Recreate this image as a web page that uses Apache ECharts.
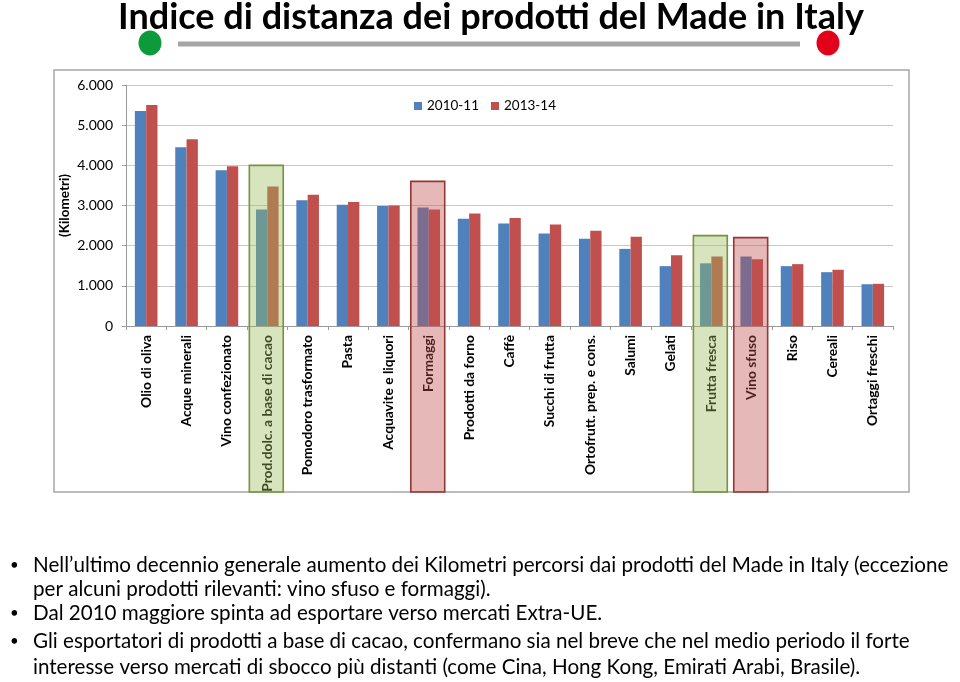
<!DOCTYPE html>
<html>
<head>
<meta charset="utf-8">
<script src="https://cdn.jsdelivr.net/npm/echarts@6/dist/echarts.min.js"></script>
<style>
html,body{margin:0;padding:0;background:#fff;}
#c{width:960px;height:682px;}
</style>
</head>
<body>
<div id="c"></div>
<script>
const titleText = 'Indice di distanza dei prodotti del Made in Italy';
const categories = ['Olio di oliva','Acque minerali','Vino confezionato','Prod.dolc. a base di cacao','Pomodoro trasformato','Pasta','Acquavite e liquori','Formaggi','Prodotti da forno','Caffè','Succhi di frutta','Ortofrutt. prep. e cons.','Salumi','Gelati','Frutta fresca','Vino sfuso','Riso','Cereali','Ortaggi freschi'];
const seriesNames = ['2010-11','2013-14'];
const v2010 = [5350,4450,3880,2900,3130,3020,2990,2950,2670,2550,2300,2170,1920,1490,1560,1730,1490,1340,1040];
const v2014 = [5500,4650,3980,3470,3270,3090,3000,2900,2800,2690,2530,2370,2220,1760,1730,1660,1540,1400,1050];
const yTicks = [0,1000,2000,3000,4000,5000,6000];
const highlightCats = ['Prod.dolc. a base di cacao','Formaggi','Frutta fresca','Vino sfuso'];
const highlightTop = [4000,3600,2250,2200];
const highlightKind = ['green','red','green','red'];
const bullets = [
  ['Nell\u2019ultimo decennio generale aumento dei Kilometri percorsi dai prodotti del Made in Italy (eccezione','per alcuni prodotti rilevanti: vino sfuso e formaggi).'],
  ['Dal 2010 maggiore spinta ad esportare verso mercati Extra-UE.'],
  ['Gli esportatori di prodotti a base di cacao, confermano sia nel breve che nel medio periodo il forte','interesse verso mercati di sbocco più distanti (come Cina, Hong Kong, Emirati Arabi, Brasile).']
];

const FONT = 'Lato, "Liberation Sans", sans-serif';
const chart = echarts.init(document.getElementById('c'), null, {renderer:'canvas'});

function fmt(v){ return v===0 ? '0' : (v/1000).toFixed(3); }

const option = {
  animation:false,
  backgroundColor:'#fff',
  textStyle:{fontFamily:FONT},
  grid:{left:126,right:67,top:85,bottom:356,containLabel:false},
  legend:{
    left:409, top:94, itemWidth:8, itemHeight:8, itemGap:12, icon:'rect',
    textStyle:{fontSize:13.5,color:'#000',fontFamily:FONT},
    data:seriesNames
  },
  xAxis:{
    type:'category', data:categories,
    axisLine:{lineStyle:{color:'#9a9a9a',width:1}},
    axisTick:{show:true,length:4,lineStyle:{color:'#9a9a9a'}},
    axisLabel:{rotate:90,interval:0,fontSize:13.8,fontWeight:'bold',color:'#000',margin:9,fontFamily:FONT}
  },
  yAxis:{
    type:'value', min:yTicks[0], max:yTicks[yTicks.length-1], interval:1000,
    name:'(Kilometri)', nameLocation:'middle', nameGap:54, nameRotate:90, nameMoveOverlap:false,
    nameTextStyle:{fontSize:13.5,fontWeight:'bold',color:'#000',fontFamily:FONT},
    axisLine:{show:true,lineStyle:{color:'#9a9a9a'}},
    axisTick:{show:true,length:4,lineStyle:{color:'#9a9a9a'}},
    splitLine:{lineStyle:{color:'#c8c8c8',width:1}},
    axisLabel:{formatter:fmt,fontSize:14,color:'#000',margin:13,fontFamily:FONT}
  },
  series:[
    {name:seriesNames[0],type:'bar',data:v2010,barWidth:11.3,barGap:'0%',itemStyle:{color:'#4f81bd'}},
    {name:seriesNames[1],type:'bar',data:v2014,barWidth:11.3,barGap:'0%',itemStyle:{color:'#c0504d'}}
  ]
};
chart.setOption(option);

const g = [];
g.push({type:'rect',shape:{x:54,y:70,width:855,height:422},style:{fill:null,stroke:'#a6a6a6',lineWidth:1.5},z:1,silent:true});
g.push({type:'text',x:491,y:17,style:{text:titleText,font:'bold 36px '+FONT,fill:'#000',align:'center',verticalAlign:'middle'},z:10});
g.push({type:'line',shape:{x1:178,y1:44,x2:800,y2:44},style:{stroke:'#a6a6a6',lineWidth:5},z:10});
g.push({type:'ellipse',shape:{cx:150,cy:43,rx:11.5,ry:12.5},style:{fill:'#0c9a3a'},z:10});
g.push({type:'ellipse',shape:{cx:828,cy:43,rx:11.5,ry:12.5},style:{fill:'#e3001b'},z:10});

const p0 = chart.convertToPixel({xAxisIndex:0}, categories[0]);
const p1 = chart.convertToPixel({xAxisIndex:0}, categories[1]);
const band = p1 - p0;
highlightCats.forEach(function(cat,i){
  const cx = chart.convertToPixel({xAxisIndex:0}, cat) - 1;
  const top = chart.convertToPixel({yAxisIndex:0}, highlightTop[i]);
  const w = band*0.84;
  const green = highlightKind[i]==='green';
  g.push({type:'rect',shape:{x:cx-w/2,y:top,width:w,height:492-top},
    style:{fill:green?'rgba(155,187,89,0.4)':'rgba(192,80,77,0.4)',stroke:green?'#77933c':'#953735',lineWidth:1.6},z:20,silent:true});
});

let y = 565;
const lineGap = [24,24,28,26];
let li = 0;
bullets.forEach(function(b){
  g.push({type:'text',x:10,y:y,style:{text:'\u2022',font:'15px '+FONT,fill:'#000',verticalAlign:'middle'},z:10});
  b.forEach(function(line){
    g.push({type:'text',x:33,y:y,style:{text:line,font:'20.6px '+FONT,fill:'#000',verticalAlign:'middle'},z:10});
    y += lineGap[li] || 26; li++;
  });
});

chart.setOption({graphic:{elements:g}});
</script>
</body>
</html>
